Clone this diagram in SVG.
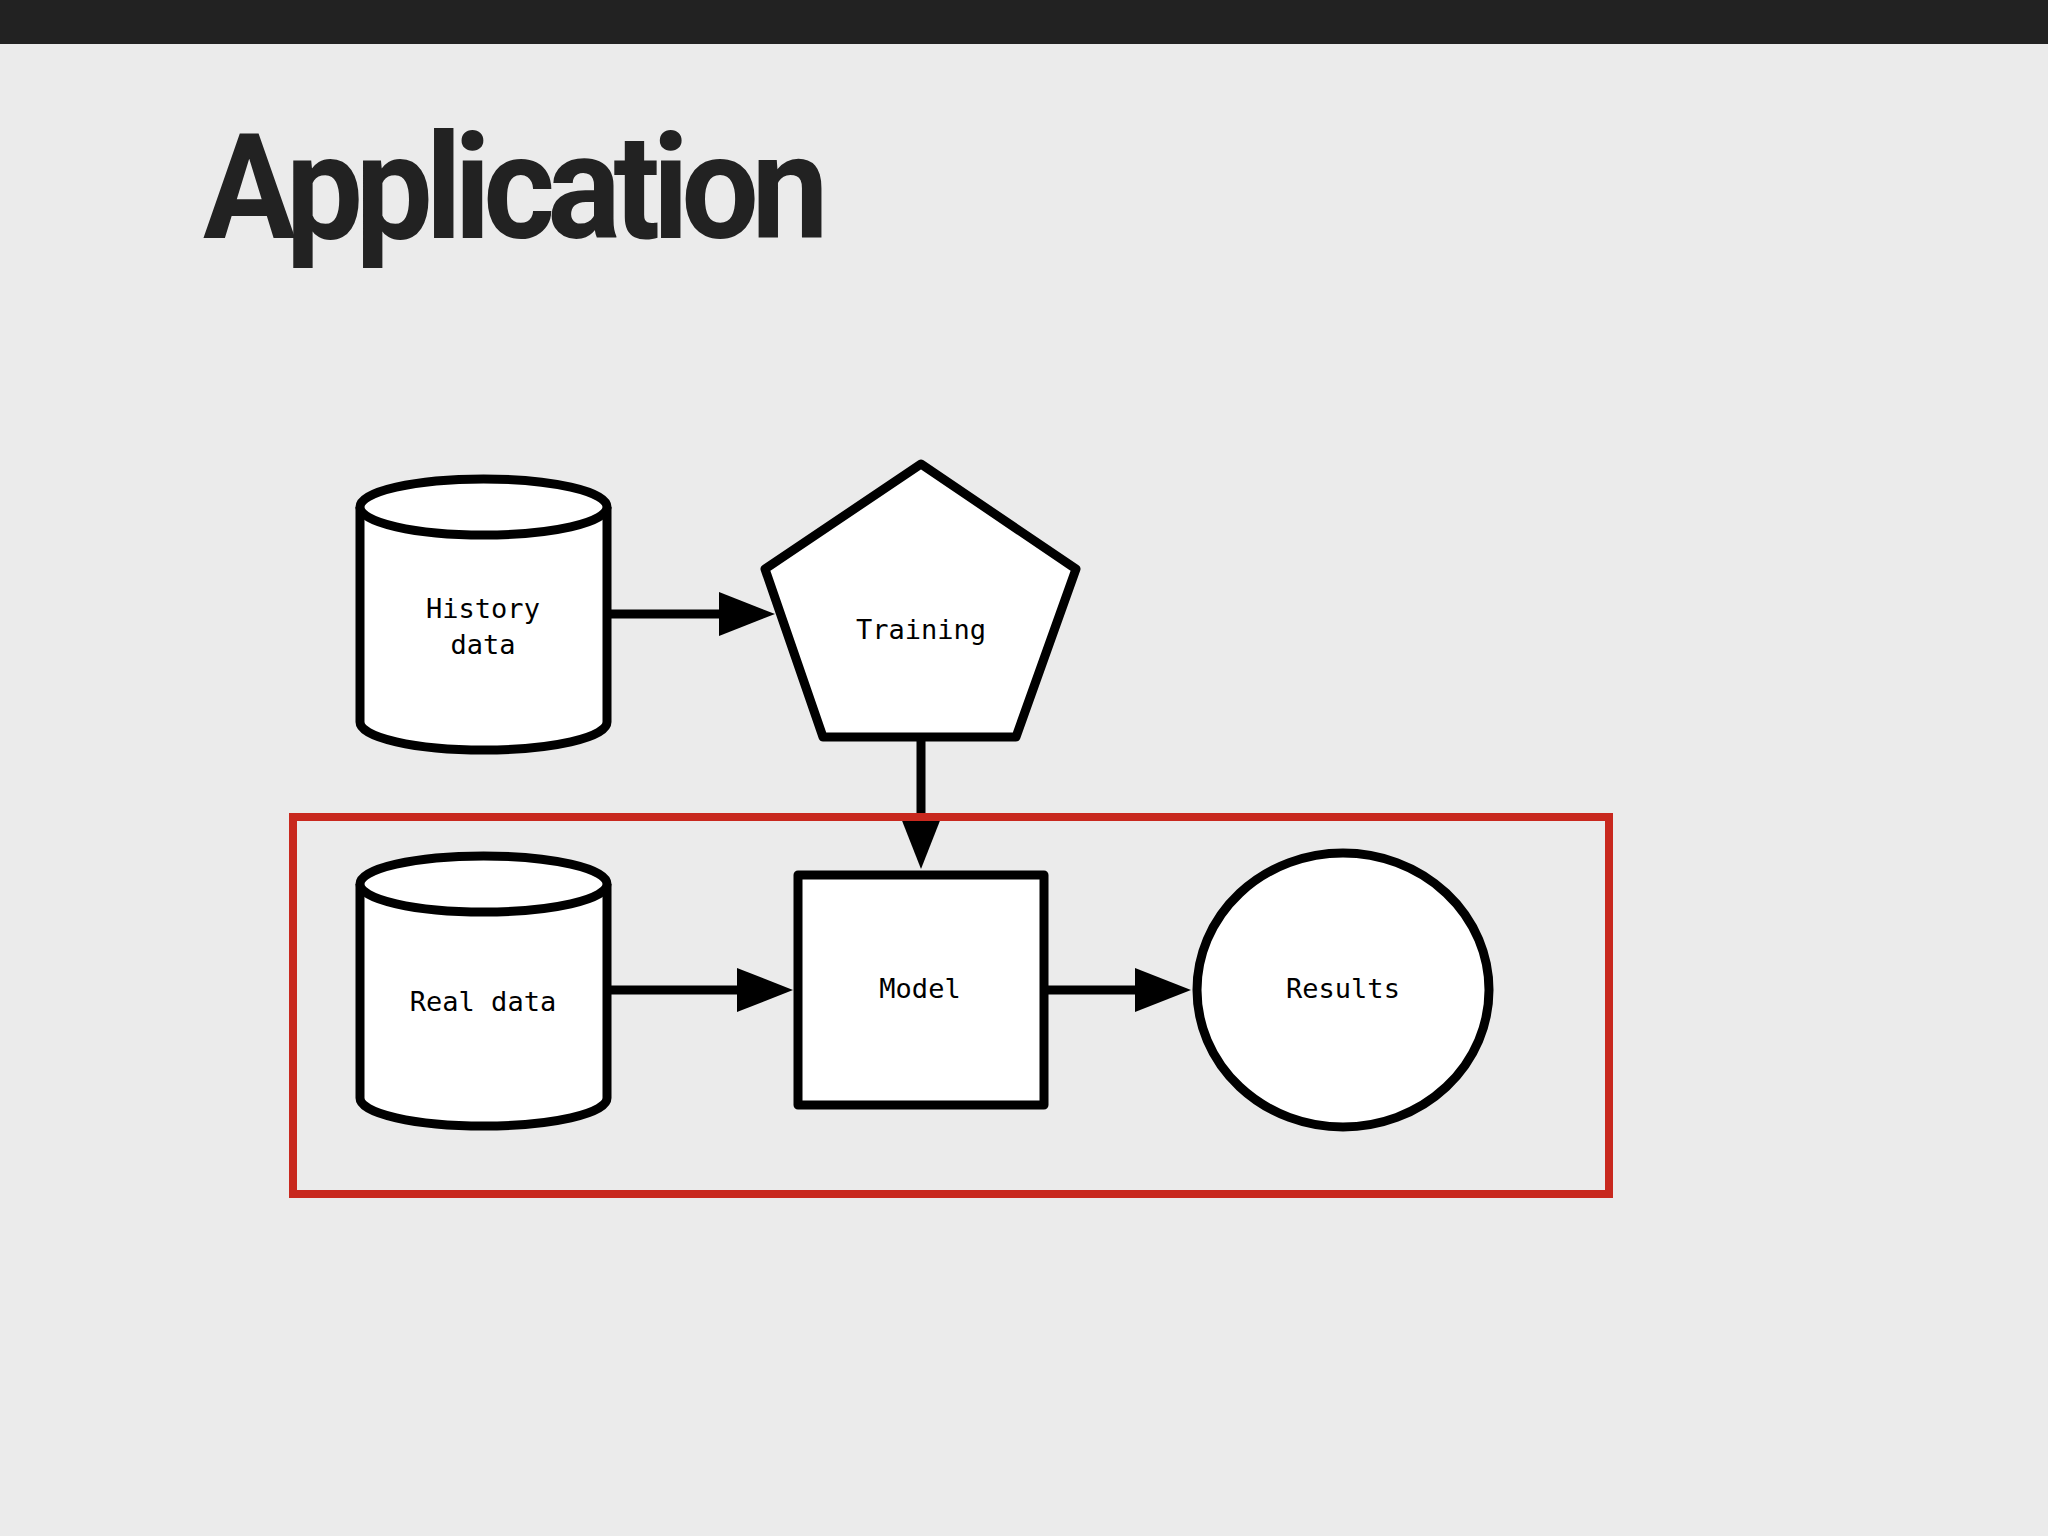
<svg xmlns="http://www.w3.org/2000/svg" width="2048" height="1536" viewBox="0 0 2048 1536">
<style>
.s{fill:#fff;stroke:#000;stroke-width:9;stroke-linejoin:round}
.l{fill:none;stroke:#000;stroke-width:9}
.t{font-family:"DejaVu Sans Mono","Liberation Mono",monospace;font-size:27px;fill:#000;text-anchor:middle;dominant-baseline:middle}
</style>
<defs><marker id="a" markerWidth="56" markerHeight="44" refX="40" refY="22" markerUnits="userSpaceOnUse" orient="auto"><path d="M0,0 L56,22 L0,44 Z" fill="#000"/></marker></defs>
<rect width="2048" height="1536" fill="#ebebeb"/>
<rect width="2048" height="44" fill="#222"/>
<text x="203" y="238" font-family="Roboto,'Liberation Sans',sans-serif" font-weight="bold" font-size="146" letter-spacing="-8" fill="#222" textLength="618" lengthAdjust="spacingAndGlyphs">Application</text>
<g id="connectors">
<line class="l" x1="607" y1="614" x2="759" y2="614" marker-end="url(#a)"/>
<line class="l" x1="921" y1="737" x2="921" y2="853" marker-end="url(#a)"/>
<line class="l" x1="607" y1="990" x2="777" y2="990" marker-end="url(#a)"/>
<line class="l" x1="1044" y1="990" x2="1175" y2="990" marker-end="url(#a)"/>
</g>
<g id="history">
<path class="s" d="M360,507 L360,722 A123.5,28 0 0 0 607,722 L607,507"/>
<ellipse class="s" cx="483.5" cy="507" rx="123.5" ry="28"/>
<text class="t" x="483" y="610">History</text><text class="t" x="483" y="646">data</text>
</g>
<g id="training">
<polygon class="s" points="921,464 1076,569 1016,737 823,737 765,569"/>
<text class="t" x="921" y="631">Training</text>
</g>
<g id="realdata">
<path class="s" d="M360,884 L360,1098 A123.5,28 0 0 0 607,1098 L607,884"/>
<ellipse class="s" cx="483.5" cy="884" rx="123.5" ry="28"/>
<text class="t" x="483" y="1003">Real data</text>
</g>
<g id="model">
<rect class="s" x="798" y="875" width="246" height="230"/>
<text class="t" x="920" y="990">Model</text>
</g>
<g id="results">
<ellipse class="s" cx="1343" cy="990" rx="146" ry="137"/>
<text class="t" x="1343" y="990">Results</text>
</g>
<g id="highlight">
<rect x="293" y="817" width="1316" height="377" fill="none" stroke="#c8281e" stroke-width="8"/>
</g>
</svg>
